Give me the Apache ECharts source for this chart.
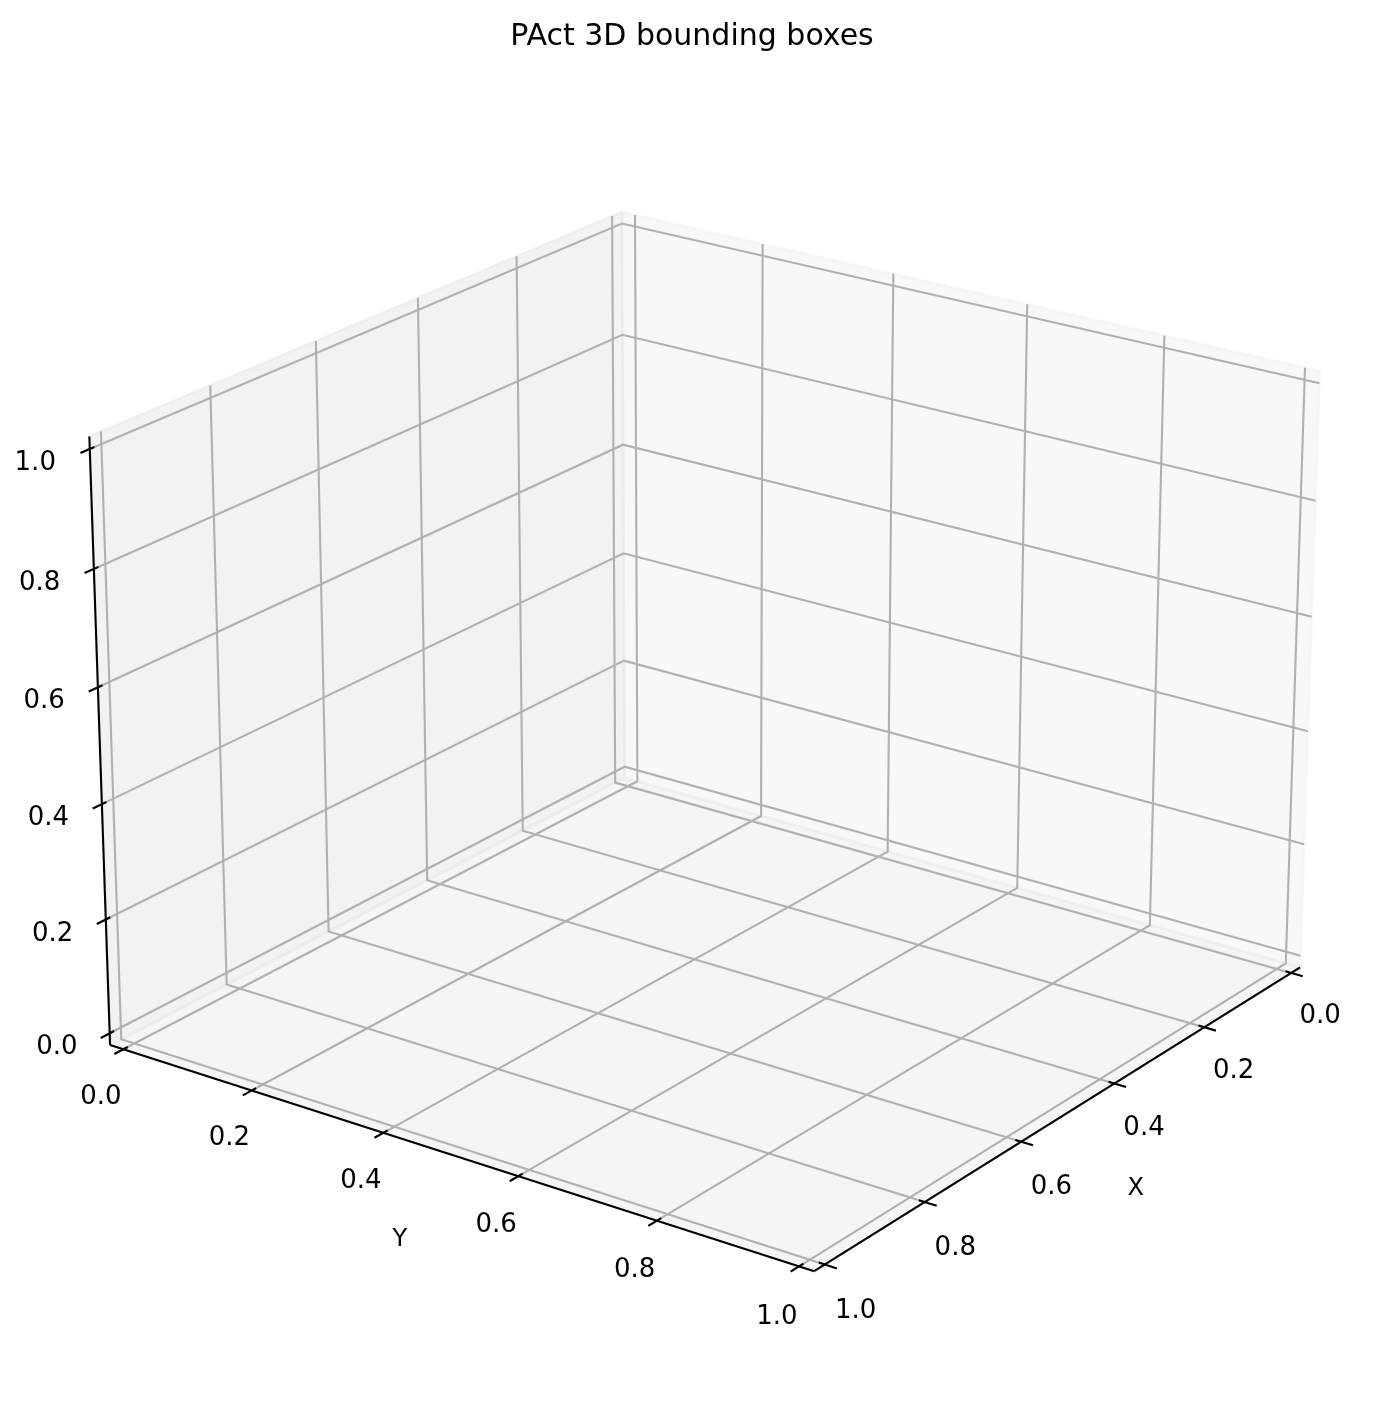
<!DOCTYPE html>
<html>
<head>
<meta charset="utf-8">
<title>PAct 3D bounding boxes</title>
<script src="https://cdn.jsdelivr.net/npm/echarts@6/dist/echarts.min.js"></script>
<style>
  html, body { margin: 0; padding: 0; background: #fff; }
  #chart { width: 1384px; height: 1419px; }
</style>
</head>
<body>
<div id="chart"></div>
<script>
// data ranges and ticks (empty 3D axes)
var xLim = [0, 1];
var yLim = [0, 1];
var zLim = [0, 1];
var xTicks = [0, 0.2, 0.4, 0.6, 0.8, 1.0];
var yTicks = [0, 0.2, 0.4, 0.6, 0.8, 1.0];
var zTicks = [0, 0.2, 0.4, 0.6, 0.8, 1.0];
var xTickLabels = ['0.0', '0.2', '0.4', '0.6', '0.8', '1.0'];
var yTickLabels = ['0.0', '0.2', '0.4', '0.6', '0.8', '1.0'];
var zTickLabels = ['0.0', '0.2', '0.4', '0.6', '0.8', '1.0'];
var axisNames = ['X', 'Y', ''];
var titleText = 'PAct 3D bounding boxes';

// camera, like matplotlib's view_init + default perspective
var elev = 22;
var azim = 36;
var boxAspect = [4, 4, 3];
var dist = 10;

var FONT = '"DejaVu Sans", "Liberation Sans", sans-serif';

var lims = [xLim, yLim, zLim];
var ticks = [xTicks, yTicks, zTicks];
var tickLabels = [xTickLabels, yTickLabels, zTickLabels];
var span = lims.map(function (l) { return l[1] - l[0]; });
// panes sit a little outside the limits (1/48 of the range)
var lo = lims.map(function (l, i) { return l[0] - span[i] / 48; });
var hi = lims.map(function (l, i) { return l[1] + span[i] / 48; });

var aspNorm = Math.sqrt(boxAspect.reduce(function (s, a) { return s + a * a; }, 0));
var box = boxAspect.map(function (a) { return a * 1.8294640721620434 / aspNorm; });
var er = elev * Math.PI / 180, ar = azim * Math.PI / 180;
var W = [Math.cos(er) * Math.cos(ar), Math.cos(er) * Math.sin(ar), Math.sin(er)];
var U = [-Math.sin(ar), Math.cos(ar), 0];
var V = [-Math.sin(er) * Math.cos(ar), -Math.sin(er) * Math.sin(ar), Math.cos(er)];

function project(p) {
    var q = [0, 1, 2].map(function (i) {
        return (p[i] - lims[i][0]) / span[i] * box[i] - box[i] / 2;
    });
    function dot(r) { return r[0] * q[0] + r[1] * q[1] + r[2] * q[2]; }
    var depth = dist - dot(W);
    return [dot(U) / depth, dot(V) / depth];
}

// which edge carries each axis: +1 = high side, -1 = low side
var edgeSide = [[0, 1, -1], [1, 0, -1], [1, -1, 0]];
var tickDir = [1, 0, 0];

function edgePoint(i, t) {
    var p = [];
    for (var k = 0; k < 3; k++) {
        if (k === i) p[k] = t;
        else p[k] = edgeSide[i][k] > 0 ? hi[k] : lo[k];
    }
    return p;
}
function awayFromCentre(i, p, m) {
    var q = p.slice();
    for (var k = 0; k < 3; k++) {
        if (k !== i) q[k] += edgeSide[i][k] * m * span[k];
    }
    return q;
}

// panes
var paneColors = ['rgba(242,242,242,0.5)', 'rgba(230,230,230,0.5)', 'rgba(236,236,236,0.5)'];
var panes = [0, 1, 2].map(function (i) {
    var j = (i + 1) % 3, k = (i + 2) % 3;
    var quad = [[lo[j], lo[k]], [hi[j], lo[k]], [hi[j], hi[k]], [lo[j], hi[k]]];
    return quad.map(function (c) {
        var p = []; p[i] = lo[i]; p[j] = c[0]; p[k] = c[1];
        return project(p);
    });
});

// grid lines: floor/wall polylines through the back corner planes
var gridLines = [];
[0, 1, 2].forEach(function (i) {
    var j = (i + 1) % 3, k = (i + 2) % 3;
    ticks[i].forEach(function (t) {
        var a = [], b = [], c = [];
        a[i] = t; a[j] = hi[j]; a[k] = lo[k];
        b[i] = t; b[j] = lo[j]; b[k] = lo[k];
        c[i] = t; c[j] = lo[j]; c[k] = hi[k];
        gridLines.push([project(a), project(b), project(c)]);
    });
});

// axis lines and tick marks
var axisLines = [];
var tickMarks = [];
var texts = [];
var tickM = [0.043, 0.043, 0.045];
var tickDy = 11;
[0, 1, 2].forEach(function (i) {
    axisLines.push([project(edgePoint(i, lo[i])), project(edgePoint(i, hi[i]))]);
    var d = tickDir[i];
    var delta = span[d] / 12;
    var sgn = edgeSide[i][d];
    ticks[i].forEach(function (t, n) {
        var p1 = edgePoint(i, t), p2 = edgePoint(i, t);
        p1[d] += sgn * 0.2 * delta;
        p2[d] -= sgn * 0.1 * delta;
        tickMarks.push([project(p1), project(p2)]);
        texts.push({
            pos: project(awayFromCentre(i, edgePoint(i, t), tickM[i])),
            dy: tickDy, text: tickLabels[i][n], size: 26
        });
    });
    if (axisNames[i]) {
        var mid = edgePoint(i, (lims[i][0] + lims[i][1]) / 2);
        texts.push({
            pos: project(awayFromCentre(i, mid, 0.097)),
            dy: 0, text: axisNames[i], size: 24
        });
    }
});

function polyItems(list, style) {
    return function (params, api) {
        var pts = list[params.dataIndex].map(function (p) { return api.coord(p); });
        return { type: 'polyline', shape: { points: pts }, style: style, silent: true };
    };
}
function indexData(list) { return list.map(function (_, n) { return [n, 0]; }); }

var chart = echarts.init(document.getElementById('chart'));
chart.setOption({
    animation: false,
    backgroundColor: '#ffffff',
    title: {
        text: titleText,
        left: 'center',
        top: 17,
        textStyle: { fontFamily: FONT, fontSize: 30, fontWeight: 'normal', color: '#000' }
    },
    grid: { left: 21.1, top: 54.8, width: 1345.9, height: 1345.9, containLabel: false },
    xAxis: { type: 'value', min: -0.095, max: 0.09, show: false },
    yAxis: { type: 'value', min: -0.095, max: 0.09, show: false },
    series: [
        {
            type: 'custom', clip: false, silent: true,
            data: indexData(panes),
            renderItem: function (params, api) {
                var pts = panes[params.dataIndex].map(function (p) { return api.coord(p); });
                var col = paneColors[params.dataIndex];
                return { type: 'polygon', shape: { points: pts },
                    style: { fill: col, stroke: col, lineWidth: 2.6 } };
            }
        },
        {
            type: 'custom', clip: false, silent: true,
            data: indexData(gridLines),
            renderItem: polyItems(gridLines, { stroke: '#b0b0b0', lineWidth: 2.1, fill: null })
        },
        {
            type: 'custom', clip: false, silent: true,
            data: indexData(axisLines),
            renderItem: polyItems(axisLines, { stroke: '#000', lineWidth: 2.1, fill: null })
        },
        {
            type: 'custom', clip: false, silent: true,
            data: indexData(tickMarks),
            renderItem: polyItems(tickMarks, { stroke: '#000', lineWidth: 2.1, fill: null })
        },
        {
            type: 'custom', clip: false, silent: true,
            data: indexData(texts),
            renderItem: function (params, api) {
                var t = texts[params.dataIndex];
                var c = api.coord(t.pos);
                return {
                    type: 'text', x: c[0], y: c[1] + t.dy,
                    style: { text: t.text, fill: '#000', fontSize: t.size, fontFamily: FONT,
                        align: 'center', verticalAlign: 'middle' }
                };
            }
        }
    ]
});
</script>
</body>
</html>
